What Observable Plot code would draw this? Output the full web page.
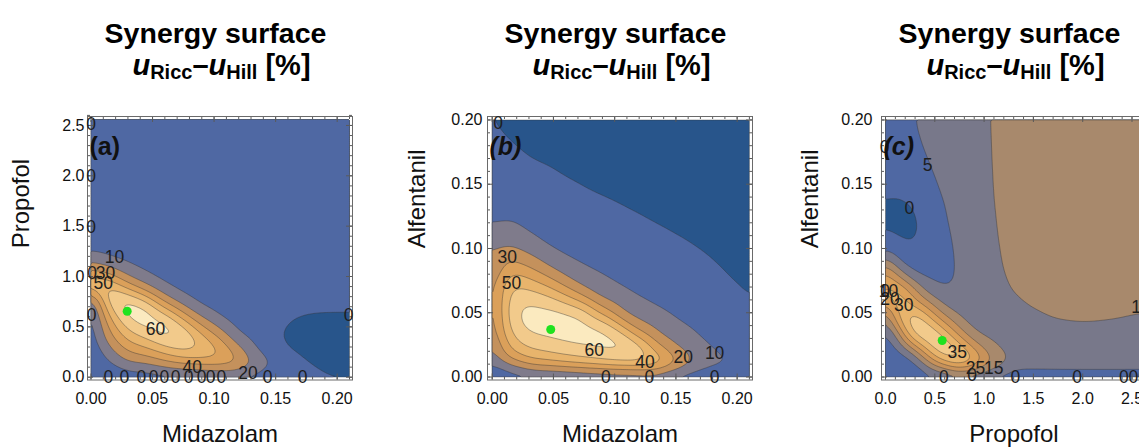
<!DOCTYPE html>
<html>
<head>
<meta charset="utf-8">
<script src="https://cdn.jsdelivr.net/npm/d3@7"></script>
<script src="https://cdn.jsdelivr.net/npm/@observablehq/plot@0.6"></script>
<style>
  html, body { margin: 0; padding: 0; background: #fff; overflow: hidden; }
  #fig { position: relative; width: 1139px; height: 448px; overflow: hidden; font-family: "Liberation Sans", Arial, Helvetica, sans-serif; color: #000; }
  .panel { position: absolute; top: 100px; width: 380px; height: 348px; }
  .title { position: absolute; top: 19.3px; font-size: 28.5px; font-weight: bold; line-height: 1; white-space: nowrap; transform: translateX(-50%); }
  .sub { position: absolute; top: 50.5px; font-size: 29px; font-weight: bold; line-height: 1; white-space: nowrap; transform: translateX(-50%); }
  .sub i { font-style: italic; }
  .sub .s { font-size: 20px; position: relative; top: 4px; }
</style>
</head>
<body>
<div id="fig"></div>
<script>
const FONT = '"Liberation Sans", Arial, Helvetica, sans-serif';

// ---------- texts ----------
const titleText = "Synergy surface";
const panelNames = ["(a)", "(b)", "(c)"];
const xTitles = ["Midazolam", "Midazolam", "Propofol"];
const yTitles = ["Propofol", "Alfentanil", "Alfentanil"];

// ---------- tick labels ----------
const aXTicks = [0, 0.05, 0.10, 0.15, 0.20];
const aYTicks = [0, 0.5, 1.0, 1.5, 2.0, 2.5];
const bXTicks = [0, 0.05, 0.10, 0.15, 0.20];
const bYTicks = [0, 0.05, 0.10, 0.15, 0.20];
const cXTicks = [0, 0.5, 1.0, 1.5, 2.0, 2.5];
const cYTicks = [0, 0.05, 0.10, 0.15, 0.20];

// ---------- contour levels & band colours ----------
const abLevels = [-100, 0, 10, 20, 30, 40, 50, 60];
const abColors = ["#28558b", "#4f68a3", "#7f7b8b", "#c4915c", "#dba05a", "#e8b46c", "#f2ca8b", "#fbeabf"];
const cLevels = [-100, 0, 5, 10, 15, 20, 25, 30, 35];
const cColors = ["#28558b", "#4f68a3", "#78788a", "#a8896c", "#c8925a", "#dba05a", "#e8b46c", "#f2ca8b", "#fbe8ba"];

// ---------- panel (a): Midazolam x Propofol ----------
// sample positions; each surface column lists values from top (max y) to bottom (y = 0)
const aGridX = [0, 0.015, 0.03, 0.045, 0.06, 0.075, 0.09, 0.105, 0.12, 0.135, 0.15, 0.165, 0.18, 0.195, 0.21];
const aGridY = [2.56, 1.5, 1.4, 1.3, 1.2, 1.1, 1.0, 0.9, 0.8, 0.7, 0.6, 0.5, 0.4, 0.3, 0.2, 0.1, 0];
const aSurface = [
  [3, 3, 3.5, 7, 13, 25, 40, 51, 9, 4, 2.5, 2, 2, 2, 2, 1.5, 0.5],
  [3, 3, 3.5, 5.5, 10, 17, 38, 50, 61, 52, 40, 33, 26, 19, 12, 7, 0.5],
  [3, 3, 3.5, 5, 7, 12, 19, 35, 57, 67, 63, 54, 44, 35, 25, 15, 1],
  [3, 3, 3.2, 4, 5, 7, 13, 20, 42, 62, 68, 63, 52, 41, 28, 15, 1],
  [3, 3, 3, 3, 3.5, 4.5, 7, 12, 20, 38, 58, 66, 62, 50, 36, 20, 1],
  [3, 3, 3, 3, 3.2, 3.5, 4.5, 7, 11, 20, 37, 52, 61, 55, 43, 24, 1],
  [3, 3, 3, 3, 3, 3.2, 3.5, 4.5, 6.5, 10, 18, 31, 44, 50, 44, 27, 1],
  [3, 3, 3, 3, 3, 3, 3.2, 3.8, 4.5, 6, 9, 17, 29, 38, 42, 29, 1],
  [3, 3, 3, 3, 3, 3, 3, 3.3, 3.8, 4, 5, 7.5, 11, 21, 29, 31, 1],
  [3, 3, 3, 3, 3, 3, 3, 3, 3.2, 3.5, 4, 4.5, 6, 8, 13, 21, 1],
  [3, 3, 3, 3, 3, 3, 3, 3, 3, 3, 2.5, 1.5, 0.8, 2.5, 5, 9, 1],
  [3, 3, 3, 3, 3, 3, 3, 3, 2.5, 1.8, 0.3, -1.5, -2.5, -1.5, 1.5, 3, 1],
  [3, 3, 3, 3, 3, 3, 3, 3, 2.5, 1.5, -0.8, -3, -3.5, -3, -1.5, 1, 1],
  [3, 3, 3, 3, 3, 3, 3, 3, 2.5, 1.5, -1, -3.5, -4, -4, -3, -1, 1],
  [3, 3, 3, 3, 3, 3, 3, 3, 2.5, 1.5, -1, -3.5, -4.5, -4.5, -3.5, -1.5, 1]
];
const aPeak = [0.0294, 0.655];
const aContourLabels = [
  [0, 2.507, "0"], [0, 1.993, "0"], [0, 1.49, "0"], [0.001, 1.03, "0"], [0.0118, 1.03, "30"],
  [0.0099, 0.927, "50"], [0.019, 1.19, "10"], [0.0004, 0.613, "0"], [0.0524, 0.474, "60"],
  [0.0822, 0.099, "40"], [0.1275, 0.034, "20"], [0.2092, 0.613, "0"],
  [0.0142, 0, "0"], [0.0272, 0, "0"], [0.041, 0, "0"], [0.0508, 0, "0"], [0.0597, 0, "0"], [0.0687, 0, "0"],
  [0.0792, 0, "0"], [0.0898, 0, "0"], [0.0971, 0, "0"], [0.106, 0, "0"], [0.1434, 0, "0"], [0.1719, 0, "0"]
];

// ---------- panel (b): Midazolam x Alfentanil ----------
const bGridX = [0, 0.015, 0.03, 0.045, 0.06, 0.075, 0.09, 0.105, 0.12, 0.135, 0.15, 0.165, 0.18, 0.195, 0.21];
const bGridY = [0.20, 0.19, 0.18, 0.17, 0.16, 0.15, 0.14, 0.13, 0.12, 0.11, 0.10, 0.09, 0.08, 0.07, 0.06, 0.05, 0.04, 0.03, 0.02, 0.01, 0];
const bSurface = [
  [0.3, 1, 1.7, 2.4, 3, 3.6, 4.3, 5.5, 10.5, 13, 19, 20, 21, 22, 22, 21.5, 21, 19, 15, 9, 0.5],
  [-1.5, -0.6, 0.4, 1.5, 2.5, 3.5, 5, 7, 11, 16, 21, 33, 42, 51, 55, 57, 54, 48, 40, 22, 1],
  [-2.5, -1.7, -0.9, 0.1, 1.2, 2.3, 3.5, 5, 7, 11, 16.5, 25, 37, 48, 59, 64, 64, 57, 49, 33, 1],
  [-3, -2.3, -1.5, -0.5, 0.5, 1.5, 2.6, 3.8, 5.2, 7, 11, 16.5, 28, 41, 55, 63, 66, 59, 52, 36, 1],
  [-3.5, -2.8, -2, -1.2, -0.4, 0.5, 1.6, 2.7, 4, 5.5, 8, 12, 18, 30, 46, 61, 65, 62, 55, 40, 1],
  [-4, -3.2, -2.5, -1.7, -0.9, -0.2, 0.7, 1.8, 3, 4.3, 6, 9, 13, 18.5, 35, 56, 63.5, 63, 58, 43, 1],
  [-4.5, -3.7, -3, -2.3, -1.5, -0.8, 0.1, 1.1, 2.2, 3.3, 4.6, 6.5, 10, 14, 19.5, 37, 59, 63, 61, 46, 1],
  [-5, -4.2, -3.5, -2.8, -2, -1.3, -0.5, 0.4, 1.4, 2.5, 3.6, 5, 7, 10.5, 15, 21, 40, 61, 62, 50, 1],
  [-5.5, -4.8, -4, -3.3, -2.5, -1.8, -1.1, -0.3, 0.7, 1.7, 2.8, 4, 5.6, 7.6, 11, 15, 23, 40, 60.5, 53, 1],
  [-6, -5.3, -4.6, -3.9, -3.2, -2.4, -1.7, -1, -0.1, 0.9, 2, 3.2, 4.5, 6.2, 8.3, 11.5, 16, 24, 38, 54, 1],
  [-6.5, -5.8, -5.1, -4.4, -3.7, -3, -2.3, -1.6, -0.8, 0.1, 1.2, 2.4, 3.7, 5, 6.7, 8.7, 11.5, 16, 23, 36, 1],
  [-7, -6.3, -5.6, -4.9, -4.2, -3.5, -2.8, -2.1, -1.4, -0.7, 0.2, 1.4, 2.6, 3.8, 5, 6.6, 8.8, 11.5, 15, 20.5, 1],
  [-7.5, -6.8, -6.1, -5.4, -4.7, -4, -3.3, -2.6, -1.9, -1.2, -0.8, 0.1, 1.2, 2.4, 3.6, 4.9, 6.3, 8, 10.5, 13.5, 1],
  [-8, -7.3, -6.6, -5.9, -5.2, -4.5, -3.8, -3.1, -2.4, -1.9, -1.4, -0.9, -0.4, 0.5, 1.6, 2.8, 4.1, 5.5, 7.2, 11.5, 1],
  [-8.5, -7.8, -7.1, -6.4, -5.7, -5, -4.3, -3.6, -3, -2.4, -1.9, -1.4, -1, -0.6, -0.1, 0.8, 1.9, 3.2, 4.6, 6.5, 1]
];
const bPeak = [0.0478, 0.037];
const bContourLabels = [
  [0.0048, 0.1977, "0"], [0.0123, 0.0932, "30"], [0.0157, 0.0725, "50"], [0.0833, 0.0206, "60"],
  [0.1248, 0.0115, "40"], [0.156, 0.0154, "20"], [0.1816, 0.018, "10"],
  [0.0929, 0, "0"], [0.1284, 0, "0"], [0.1816, 0, "0"]
];

// ---------- panel (c): Propofol x Alfentanil ----------
const cGridX = [0, 0.13, 0.26, 0.39, 0.52, 0.65, 0.78, 0.91, 1.04, 1.17, 1.30, 1.43, 1.56, 1.69, 1.82, 1.95, 2.08, 2.21, 2.34, 2.47, 2.60];
const cGridY = [0.20, 0.19, 0.18, 0.17, 0.16, 0.15, 0.14, 0.13, 0.12, 0.11, 0.10, 0.09, 0.08, 0.07, 0.06, 0.05, 0.04, 0.03, 0.02, 0.01, 0];
const cSurface = [
  [1.5, 1.5, 1.5, 1.5, 1.5, 1, 0.2, -0.5, -0.4, 0.5, 3.5, 13, 24, 27, 21, 10, 4, 2.5, 2, 1.5, 0.5],
  [2.5, 2.3, 2, 1.6, 1.1, 0.6, -0.1, -0.8, -0.9, -0.3, 1.5, 4.2, 14, 24, 32, 29, 22, 7, 3, 2, 0.5],
  [4.6, 4.2, 3.8, 3.3, 2.7, 2, 0.4, -0.8, -1.1, -0.6, 0.1, 2.5, 5.5, 18, 22, 33, 34, 27, 7, 2.5, 0.5],
  [6, 5.6, 5.2, 4.7, 4.1, 3.4, 2.6, 1.6, 0.8, 0.6, 1.2, 2.6, 3.8, 7.5, 15, 26, 35, 33, 22, 8, 0.5],
  [7.2, 6.8, 6.3, 5.9, 5.5, 5.1, 4.6, 4.1, 3.7, 3.4, 3.3, 3.4, 3.8, 4.7, 10, 17, 27, 37, 33, 18, 0.5],
  [7.8, 7.5, 7.2, 6.8, 6.4, 6, 5.7, 5.4, 5.2, 4.8, 4.6, 4.5, 4.6, 4.9, 6.5, 10.5, 19, 28, 36, 26, 0.5],
  [8.2, 8, 7.8, 7.6, 7.4, 7.2, 7, 6.8, 6.6, 6.4, 6, 5.8, 5.6, 5.8, 6.6, 7.5, 11, 20, 30, 31, 0.5],
  [8.5, 8.4, 8.3, 8.2, 8.1, 8, 7.9, 7.8, 7.6, 7.4, 7.2, 7, 6.9, 6.9, 7, 7.3, 8.2, 11.5, 22, 26.5, 0.5],
  [9.9, 9.85, 9.8, 9.75, 9.7, 9.65, 9.6, 9.5, 9.4, 9.3, 9.1, 8.9, 8.7, 8.5, 8.3, 8.2, 8.3, 9, 15, 17, 0.5],
  [10.8, 10.8, 10.8, 10.8, 10.7, 10.7, 10.6, 10.5, 10.4, 10.3, 10.2, 10.1, 9.9, 9.6, 9.3, 9, 8.8, 8.8, 9.5, 13, 0.5],
  [11.3, 11.3, 11.3, 11.2, 11.2, 11.1, 11.1, 11, 10.9, 10.8, 10.7, 10.6, 10.4, 10.2, 9.7, 9.2, 8.8, 8.5, 8.4, 8, 0.5],
  [11.7, 11.7, 11.7, 11.6, 11.6, 11.5, 11.5, 11.4, 11.3, 11.2, 11.1, 11, 10.8, 10.6, 10.2, 9.6, 9, 8.6, 8.4, 8, 0.5],
  [12, 12, 12, 11.9, 11.9, 11.8, 11.8, 11.7, 11.6, 11.5, 11.4, 11.3, 11.1, 10.9, 10.6, 9.9, 9.2, 8.7, 8.4, 8, 0.5],
  [12.3, 12.3, 12.3, 12.2, 12.2, 12.1, 12.1, 12, 11.9, 11.8, 11.7, 11.6, 11.4, 11.2, 10.9, 10.3, 9.5, 8.9, 8.5, 8.1, 0.5],
  [12.5, 12.5, 12.5, 12.4, 12.4, 12.3, 12.3, 12.2, 12.1, 12, 11.9, 11.8, 11.6, 11.4, 11.1, 10.5, 9.6, 9, 8.6, 8.2, 0.5],
  [12.7, 12.7, 12.7, 12.6, 12.6, 12.5, 12.5, 12.4, 12.3, 12.2, 12.1, 12, 11.8, 11.6, 11.2, 10.6, 9.7, 9.1, 8.7, 8.2, 0.5],
  [12.8, 12.8, 12.8, 12.7, 12.7, 12.6, 12.6, 12.5, 12.4, 12.3, 12.2, 12.1, 11.9, 11.6, 11.2, 10.6, 9.7, 9.1, 8.7, 8.2, 0.5],
  [12.9, 12.9, 12.9, 12.8, 12.8, 12.7, 12.7, 12.6, 12.5, 12.4, 12.3, 12.2, 12, 11.7, 11.2, 10.5, 9.6, 9.1, 8.7, 8.2, 0.5],
  [13, 13, 13, 12.9, 12.9, 12.8, 12.8, 12.7, 12.6, 12.5, 12.4, 12.3, 12.1, 11.8, 11.2, 10.4, 9.5, 9, 8.7, 8.2, 0.5],
  [13, 13, 13, 13, 12.9, 12.9, 12.8, 12.8, 12.7, 12.6, 12.5, 12.4, 12.2, 11.9, 11.3, 10.1, 9.4, 9, 8.7, 8.2, 0.5],
  [13.1, 13.1, 13.1, 13, 13, 12.9, 12.9, 12.8, 12.7, 12.6, 12.5, 12.4, 12.2, 11.9, 11.2, 9.8, 9.3, 8.9, 8.6, 8.2, 0.5]
];
const cPeak = [0.575, 0.0284];
const cContourLabels = [
  [-0.01, 0.1784, "0"], [0.426, 0.1646, "5"], [0.243, 0.1309, "0"],
  [-0.005, 0.0667, "0"], [0.03, 0.0667, "10"], [0.045, 0.0605, "20"],
  [0.186, 0.056, "30"], [0.727, 0.0193, "35"], [0.913, 0.0064, "25"], [1.098, 0.0064, "15"],
  [0.879, 0.0015, "0"], [0.591, 0, "0"], [1.318, 0, "0"], [1.944, 0, "0"], [2.515, 0, "000"],
  [2.591, 0.0543, "10"]
];

// ---------- build ----------
function sampleTable(xs, ys, cols) {
  const rows = [];
  cols.forEach((col, i) => col.forEach((v, j) => rows.push({x: xs[i], y: ys[j], v})));
  return rows;
}

const panels = [
  {left: 0, name: panelNames[0], italic: false, xTitle: xTitles[0], yTitle: yTitles[0], yTitleDx: -66,
   xDomain: [-0.00284, 0.21244], yDomain: [-0.0278, 2.589],
   xTicks: aXTicks, yTicks: aYTicks, xFmt: d3.format(".2f"), yFmt: d3.format(".1f"), yPad: 3,
   xMinor: d3.range(0, 0.2101, 0.01), yMinor: d3.range(0, 2.601, 0.1),
   gx: aGridX, gy: aGridY, surface: aSurface, levels: abLevels, colors: abColors, peak: aPeak, labels: aContourLabels},
  {left: 400, name: panelNames[1], italic: true, xTitle: xTitles[1], yTitle: yTitles[1], yTitleDx: -70.3,
   xDomain: [-0.00385, 0.21254], yDomain: [-0.00233, 0.2027],
   xTicks: bXTicks, yTicks: bYTicks, xFmt: d3.format(".2f"), yFmt: d3.format(".2f"), yPad: 5,
   xMinor: d3.range(0, 0.2101, 0.01), yMinor: d3.range(0, 0.2001, 0.01),
   gx: bGridX, gy: bGridY, surface: bSurface, levels: abLevels, colors: abColors, peak: bPeak, labels: bContourLabels},
  {left: 794, name: panelNames[2], italic: true, xTitle: xTitles[2], yTitle: yTitles[2], yTitleDx: -71,
   xDomain: [-0.0406, 2.647], yDomain: [-0.00233, 0.2027],
   xTicks: cXTicks, yTicks: cYTicks, xFmt: d3.format(".1f"), yFmt: d3.format(".2f"), yPad: 9,
   xMinor: d3.range(0, 2.601, 0.1), yMinor: d3.range(0, 0.2001, 0.01),
   gx: cGridX, gy: cGridY, surface: cSurface, levels: cLevels, colors: cColors, peak: cPeak, labels: cContourLabels}
];

function makePanel(p) {
  const FW = 265, FH = 263.5;
  const data = sampleTable(p.gx, p.gy, p.surface);
  const tickStroke = "#5a5a5a";
  // raster limited to the sampled region (no extrapolation outside it)
  const gx0 = p.gx[0], gx1 = p.gx[p.gx.length - 1];
  const gyTop = p.gy[0], gyBot = p.gy[p.gy.length - 1];
  return Plot.plot({
    width: 380, height: 348,
    marginLeft: 87, marginRight: 28, marginTop: 16, marginBottom: 68.5,
    x: {domain: p.xDomain},
    y: {domain: p.yDomain},
    color: {type: "threshold", domain: p.levels.slice(1), range: p.colors},
    style: {fontFamily: FONT, fontSize: "16px", color: "#111", background: "transparent", maxWidth: "none"},
    marks: [
      Plot.contour(data, {x: "x", y: "y", fill: "v", interpolate: "barycentric", blur: 3, thresholds: p.levels,
                          x1: gx0, x2: gx1, y1: gyTop, y2: gyBot,
                          clip: true, stroke: "#333", strokeOpacity: 0.45, strokeWidth: 0.9}),
      Plot.frame({stroke: "white", strokeWidth: 5}),
      Plot.tickX(p.xMinor, {x: d => d, insetTop: FH - 3, stroke: tickStroke}),
      Plot.tickX(p.xMinor, {x: d => d, insetBottom: FH - 3, stroke: tickStroke}),
      Plot.tickX(p.xTicks, {x: d => d, insetTop: FH - 6, stroke: tickStroke}),
      Plot.tickX(p.xTicks, {x: d => d, insetBottom: FH - 6, stroke: tickStroke}),
      Plot.tickY(p.yMinor, {y: d => d, insetRight: FW - 3, stroke: tickStroke}),
      Plot.tickY(p.yMinor, {y: d => d, insetLeft: FW - 3, stroke: tickStroke}),
      Plot.tickY(p.yTicks, {y: d => d, insetRight: FW - 6, stroke: tickStroke}),
      Plot.tickY(p.yTicks, {y: d => d, insetLeft: FW - 6, stroke: tickStroke}),
      Plot.frame({stroke: "#6a6a6a", strokeWidth: 1}),
      Plot.axisX({ticks: p.xTicks, tickFormat: p.xFmt, tickSize: 0, tickPadding: 13, label: null, fontSize: 16}),
      Plot.axisY({ticks: p.yTicks, tickFormat: p.yFmt, tickSize: 0, tickPadding: p.yPad, label: null, fontSize: 16}),
      Plot.text([p.xTitle], {text: d => d, frameAnchor: "bottom", dy: 62, fontSize: 24, fill: "#111"}),
      Plot.text([p.yTitle], {text: d => d, frameAnchor: "left", dx: p.yTitleDx, rotate: -90, fontSize: 24, fill: "#111"}),
      Plot.text(p.labels, {x: d => d[0], y: d => d[1], text: d => d[2], fontSize: 17.5, fill: "#1e1e1e"}),
      Plot.text([p.name], {text: d => d, frameAnchor: "top-left", dx: 2, dy: 21, textAnchor: "start",
                           fontSize: 25, fontWeight: "bold", fontStyle: p.italic ? "italic" : "normal", fill: "#111"}),
      Plot.dot([p.peak], {x: d => d[0], y: d => d[1], r: 4.5, fill: "#1fe21f"})
    ]
  });
}

const fig = document.getElementById("fig");
panels.forEach(p => {
  const cx = p.left + 87 + 132.5;
  const t = document.createElement("div");
  t.className = "title";
  t.style.left = (cx - 4) + "px";
  t.textContent = titleText;
  const s = document.createElement("div");
  s.className = "sub";
  s.style.left = (cx + 2) + "px";
  s.innerHTML = '<i>u</i><span class="s">Ricc</span>–<i>u</i><span class="s">Hill</span> [%]';
  const d = document.createElement("div");
  d.className = "panel";
  d.style.left = p.left + "px";
  d.append(makePanel(p));
  fig.append(t, s, d);
});
</script>
</body>
</html>
